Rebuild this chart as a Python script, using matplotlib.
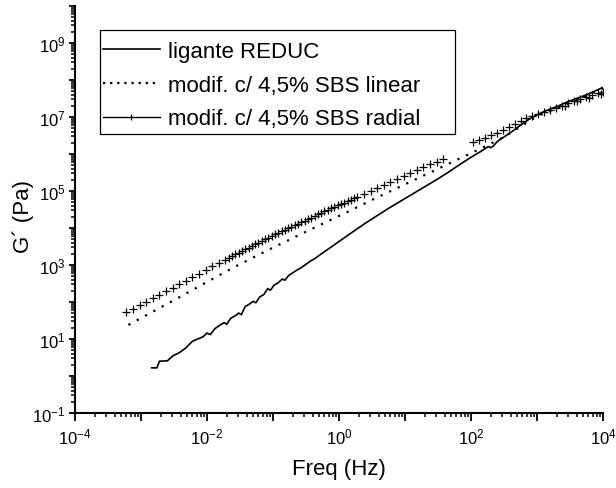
import numpy as np
import matplotlib
matplotlib.use("Agg")
import matplotlib.pyplot as plt
from matplotlib.lines import Line2D
from matplotlib.patches import Rectangle
from matplotlib.ticker import FixedLocator, FuncFormatter, LogLocator, NullFormatter

plt.rcParams['font.family'] = ['Liberation Sans', 'DejaVu Sans']
plt.rcParams['mathtext.fontset'] = 'custom'
plt.rcParams['mathtext.rm'] = 'Liberation Sans'
plt.rcParams['mathtext.default'] = 'regular'

# ---- data (log10 of frequency in Hz, log10 of G' in Pa) ----
reduc_logf = [-2.84, -2.76, -2.72, -2.60, -2.52, -2.42, -2.32, -2.22, -2.14, -2.06, -2.00, -1.95,
              -1.88, -1.80, -1.74, -1.70, -1.64, -1.58, -1.52, -1.48, -1.42, -1.36, -1.30, -1.26,
              -1.20, -1.14, -1.08, -1.04, -0.98, -0.92, -0.86, -0.82, -0.76, -0.70, -0.64, -0.58,
              -0.50, -0.42, -0.36, -0.30, -0.22, -0.14, -0.06, 0.02, 0.10, 0.18, 0.26, 0.32, 0.40,
              0.47, 0.60, 0.75, 0.90, 1.05, 1.20, 1.35, 1.50, 1.65, 1.80, 1.98, 2.14, 2.26, 2.30,
              2.34, 2.40, 2.50, 2.64, 2.75, 2.88, 3.00, 3.15, 3.30, 3.45, 3.60, 3.75, 3.90, 4.00]
reduc_logG = [0.22, 0.22, 0.40, 0.41, 0.54, 0.63, 0.76, 0.94, 1.00, 1.06, 1.16, 1.12,
              1.28, 1.38, 1.44, 1.40, 1.56, 1.62, 1.70, 1.66, 1.88, 1.94, 2.02, 1.98,
              2.14, 2.20, 2.36, 2.32, 2.46, 2.52, 2.62, 2.59, 2.72, 2.79, 2.86, 2.92,
              3.02, 3.12, 3.18, 3.26, 3.36, 3.46, 3.56, 3.66, 3.76, 3.86, 3.96, 4.03, 4.13,
              4.21, 4.36, 4.53, 4.69, 4.85, 5.01, 5.17, 5.33, 5.50, 5.68, 5.89, 6.06, 6.20, 6.17,
              6.22, 6.34, 6.46, 6.63, 6.78, 6.94, 7.06, 7.18, 7.28, 7.40, 7.50, 7.60, 7.72, 7.80]

linear_logf = [-3.19, -2.50, -2.00, -1.58, -1.00, -0.50, 0.17, 0.50, 1.00, 1.50, 2.14, 2.50, 3.00, 3.50, 4.00]
linear_logG = [1.38, 2.05, 2.54, 2.95, 3.47, 3.90, 4.47, 4.76, 5.18, 5.60, 6.14, 6.46, 7.02, 7.38, 7.78]

radial_logf = [-3.22, -3.12, -3.02, -2.92, -2.82, -2.72, -2.62, -2.52, -2.42, -2.32, -2.22, -2.12,
               -2.02, -1.92, -1.82, -1.72, -1.62, -1.52, -1.42, -1.32, -1.22, -1.12, -1.02, -0.92,
               -0.82, -0.72, -0.62, -0.52, -0.42, -0.32, -0.22, -0.12, -0.02, 0.08, 0.18, 0.28,
               0.38, 0.48, 0.58, 0.68, 0.78, 0.88, 0.98, 1.08, 1.18, 1.28, 1.38, 1.48, 1.58,
               -1.67, -1.57, -1.47, -1.37, -1.27, -1.17, -1.07, -0.97, -0.87, -0.77, -0.67, -0.57,
               -0.47, -0.37, -0.27, -0.17, -0.07, 0.03, 0.13, 0.23,
               2.03, 2.12, 2.21, 2.30, 2.39, 2.48, 2.57, 2.66, 2.75, 2.84, 2.93, 3.02, 3.11, 3.20,
               3.29, 3.38, 3.47, 3.56, 3.65, 3.74, 3.83, 3.92, 4.00,
               3.43, 3.61, 3.79, 3.97]
radial_logG = [1.72, 1.81, 1.91, 2.00, 2.10, 2.19, 2.29, 2.38, 2.48, 2.57, 2.67, 2.77,
               2.86, 2.96, 3.05, 3.14, 3.24, 3.33, 3.42, 3.51, 3.60, 3.69, 3.78, 3.87,
               3.95, 4.04, 4.12, 4.20, 4.28, 4.37, 4.45, 4.53, 4.61, 4.68, 4.76, 4.84,
               4.92, 5.00, 5.08, 5.16, 5.24, 5.32, 5.40, 5.48, 5.56, 5.64, 5.72, 5.79, 5.86,
               3.19, 3.29, 3.38, 3.47, 3.56, 3.65, 3.74, 3.83, 3.91, 4.00, 4.08, 4.16,
               4.24, 4.33, 4.41, 4.49, 4.57, 4.65, 4.72, 4.80,
               6.32, 6.38, 6.44, 6.51, 6.57, 6.64, 6.72, 6.81, 6.89, 6.96, 7.02, 7.07, 7.13, 7.19,
               7.25, 7.31, 7.37, 7.43, 7.49, 7.54, 7.59, 7.64, 7.68,
               7.30, 7.42, 7.52, 7.62]

labels = ["ligante REDUC", "modif. c/ 4,5% SBS linear", "modif. c/ 4,5% SBS radial"]
x_label = "Freq (Hz)"
y_label = "G´ (Pa)"

fig = plt.figure(figsize=(6.16, 4.89), dpi=100)
ax = fig.add_axes([75/616, 1 - 414/489, 528/616, 407/489])

p = lambda v: np.power(10.0, np.asarray(v))
ax.plot(p(reduc_logf), p(reduc_logG), color='black', lw=1.2, solid_joinstyle='miter')
ax.plot(p(linear_logf), p(linear_logG), color='black', lw=1.6, linestyle=(0, (1, 3.25)),
        dash_capstyle='butt')
ax.plot(p(radial_logf), p(radial_logG), linestyle='none', marker='+', color='black',
        markersize=5.5, markeredgewidth=0.9)

ax.set_xscale('log')
ax.set_yscale('log')
ax.set_xlim(1e-4, 1e4)
ax.set_ylim(1e-1, 1e10)

for s in ['top', 'right']:
    ax.spines[s].set_visible(False)
for s in ['left', 'bottom']:
    ax.spines[s].set_linewidth(1.5)

ax.xaxis.set_major_locator(FixedLocator([10.0**e for e in range(-4, 5)]))
ax.yaxis.set_major_locator(FixedLocator([10.0**e for e in range(-1, 11)]))
ax.xaxis.set_minor_locator(LogLocator(base=10, subs=np.arange(2, 10), numticks=50))
ax.yaxis.set_minor_locator(LogLocator(base=10, subs=np.arange(2, 10), numticks=50))
ax.xaxis.set_minor_formatter(NullFormatter())
ax.yaxis.set_minor_formatter(NullFormatter())

def fmt_x(v, pos):
    e = int(round(np.log10(v)))
    return f'$10^{{{e}}}$' if e % 2 == 0 else ''

def fmt_y(v, pos):
    e = int(round(np.log10(v)))
    return f'$10^{{{e}}}$' if e % 2 == 1 and e <= 9 else ''

ax.xaxis.set_major_formatter(FuncFormatter(fmt_x))
ax.yaxis.set_major_formatter(FuncFormatter(fmt_y))
ax.tick_params(axis='x', which='major', direction='out', length=6, width=1.3, labelsize=12, pad=4)
ax.tick_params(axis='y', which='major', direction='out', length=4, width=1.3, labelsize=12, pad=3)
ax.tick_params(which='minor', direction='out', length=3, width=1.1)

ax.set_xlabel(x_label, fontsize=16, labelpad=8)
ax.set_ylabel(y_label, fontsize=16)
ax.yaxis.set_label_coords(-0.078, 0.485)

handles = [Line2D([], [], color='black', lw=1.2),
           Line2D([], [], color='black', lw=1.6, linestyle=(0, (1, 2.2)), dash_capstyle='butt'),
           Line2D([], [], color='black', lw=1.0, marker='+', markersize=5, markeredgewidth=0.8)]
leg = ax.legend(handles, labels, loc='upper left', bbox_to_anchor=(0.053, 0.914),
                fontsize=16, frameon=False, handlelength=2.55, handletextpad=0.36,
                borderpad=0, labelspacing=0.57, borderaxespad=0, numpoints=1)
ax.add_patch(Rectangle((0.0473, 0.6855), 0.672, 0.2555, transform=ax.transAxes,
                       fill=False, edgecolor='black', lw=0.9, zorder=5, clip_on=False))

fig.savefig('out.png', dpi=100)
